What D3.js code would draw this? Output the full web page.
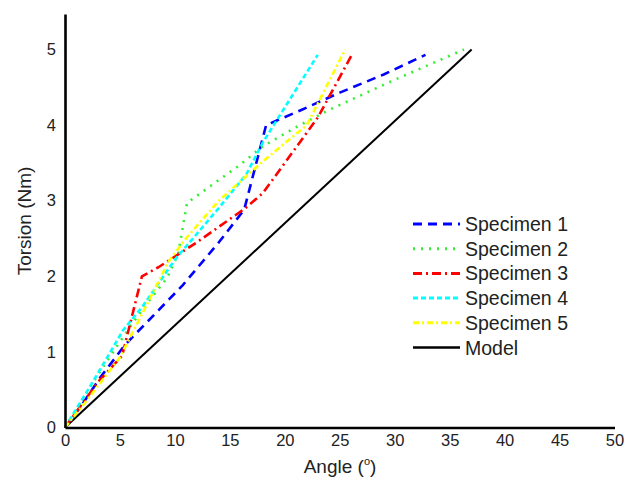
<!DOCTYPE html>
<html><head><meta charset="utf-8">
<script src="https://cdn.jsdelivr.net/npm/d3@7/dist/d3.min.js"></script>
<style>body{margin:0;background:#fff}svg{display:block}text{font-family:"Liberation Sans",Arial,sans-serif;fill:#222}</style>
</head><body><svg id="c" width="625" height="477"></svg>
<script>
const seriesNames = ["Specimen 1","Specimen 2","Specimen 3","Specimen 4","Specimen 5","Model"];
const specimen1 = [[0,0],[1.4,0.27],[3.2,0.66],[5.5,1.1],[8.5,1.55],[10.7,1.88],[14,2.45],[16.3,2.88],[18.3,4.0],[21.5,4.2],[25,4.43],[29,4.67],[32.8,4.93]];
const specimen2 = [[0,0],[3,0.7],[6,1.35],[7.5,1.65],[9.3,1.98],[10.3,2.3],[11.1,2.97],[13,3.17],[15.7,3.45],[18,3.72],[21,3.97],[24,4.2],[30,4.6],[36.3,5.0]];
const specimen3 = [[0,0],[1.5,0.3],[3,0.6],[5.2,0.95],[7,2.0],[8.5,2.12],[12,2.45],[16.4,2.9],[18,3.1],[23,4.1],[26.1,4.93]];
const specimen4 = [[0,0],[2.6,0.62],[5.3,1.29],[7,1.59],[10,2.22],[13.8,2.87],[16.5,3.35],[18,3.77],[23,4.93]];
const specimen5 = [[0,0],[2,0.36],[5,0.93],[7.5,1.64],[9.4,2.19],[11,2.5],[14,3.0],[18,3.52],[22,4.0],[25.5,5.0]];
const model = [[0,0],[37,5]];
const xTicks = [0,5,10,15,20,25,30,35,40,45,50];
const yTicks = [0,1,2,3,4,5];
const xLabel = "Angle (";
const yLabel = "Torsion (Nm)";

const allData = [specimen1,specimen2,specimen3,specimen4,specimen5,model];
const colors = ["#0000ff","#33ee33","#ff0000","#00ffff","#ffff00","#000000"];
const dashes = ["9,6","2,6","9,4,2,4","5,3","6,3,2,3",null];
const widths = [2.6,2.6,2.6,2.6,2.6,2];

const svg = d3.select("#c");
const x = d3.scaleLinear().domain([0,50]).range([65,614.5]);
const y = d3.scaleLinear().domain([0,5.47]).range([427.5,14]);

const line = d3.line().x(d=>x(d[0])).y(d=>y(d[1]));
const g = svg.append("g");
[5,0,1,2,3,4].forEach(i=>{
  g.append("path").datum(allData[i]).attr("d",line).attr("fill","none")
   .attr("stroke",colors[i]).attr("stroke-width",widths[i])
   .attr("stroke-dasharray",dashes[i]).attr("stroke-linejoin","round");
});

const xa = svg.append("g").attr("transform",`translate(0,${y(0)})`)
  .call(d3.axisBottom(x).tickValues(xTicks).tickSize(0).tickPadding(7).tickFormat(d3.format("d")));
const ya = svg.append("g").attr("transform",`translate(${x(0)},0)`)
  .call(d3.axisLeft(y).tickValues(yTicks).tickSize(0).tickPadding(9).tickFormat(d3.format("d")));
[xa,ya].forEach(a=>{
  a.select(".domain").attr("stroke","#000").attr("stroke-width",2.6);
  a.selectAll("text").attr("font-size",16.5).attr("font-family","Liberation Sans, Arial, sans-serif").attr("fill","#222");
});

const xt = svg.append("text").attr("x",340).attr("y",473).attr("text-anchor","middle").attr("font-size",19);
xt.append("tspan").text(xLabel);
xt.append("tspan").attr("font-size",11).attr("dy",-8).text("o");
xt.append("tspan").attr("dy",8).text(")");

svg.append("text").attr("transform","translate(31,221) rotate(-90)").attr("text-anchor","middle")
  .attr("font-size",19).text(yLabel);

const leg = svg.append("g");
seriesNames.forEach((n,i)=>{
  const yy = 224 + i*24.7;
  leg.append("line").attr("x1",413).attr("x2",460).attr("y1",yy).attr("y2",yy)
    .attr("stroke",colors[i]).attr("stroke-width",widths[i]+0.4).attr("stroke-dasharray",dashes[i]);
  leg.append("text").attr("x",465).attr("y",yy+7).attr("font-size",19.5).text(n);
});
</script></body></html>
